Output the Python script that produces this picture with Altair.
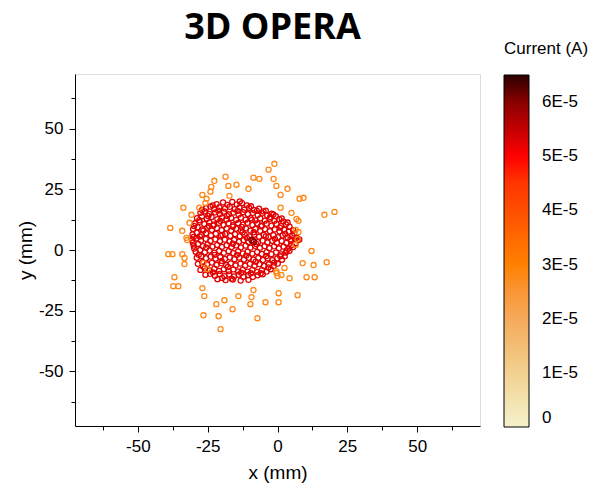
import altair as alt
import pandas as pd

# ---- data (mm) ----
red_x = [
    -21.8, -19.5, -17.9, -16.2, -14.6, -12.7, -10.9,
    -25.6, -24.0, -22.7, -20.8, -18.8, -17.1, -15.3, -13.6, -11.9, -10.2, -8.4, -6.6, -5.0,
    -27.6, -26.0, -24.4, -22.3, -20.6, -19.2, -17.4, -15.8, -13.9, -12.3, -10.6, -8.8, -7.1, -5.4, -3.7, -2.1, -0.6,
    -28.8, -27.1, -25.3, -23.6, -21.5, -19.9, -18.3, -16.6, -14.8, -13.1, -11.4, -9.6, -7.9, -6.2, -4.5, -2.8, -1.1, 0.6, 2.1,
    -29.5, -27.9, -26.2, -24.4, -22.8, -21.0, -19.3, -17.5, -15.9, -14.1, -12.4, -10.7, -9.0, -7.2, -5.6, -3.9, -2.2, -0.4, 1.3, 3.0, 4.3,
    -30.2, -28.6, -26.9, -25.1, -23.5, -21.7, -20.0, -18.2, -16.6, -14.8, -13.1, -11.3, -9.7, -7.9, -6.2, -4.5, -2.7, -1.0, 0.7, 2.4, 4.0, 5.6,
    -30.4, -28.9, -27.2, -25.6, -23.8, -22.1, -20.3, -18.7, -16.9, -15.2, -13.5, -11.8, -10.0, -8.3, -6.6, -4.9, -3.2, -1.5, 0.2, 1.9, 3.6, 5.3, 6.9,
    -30.6, -29.0, -27.4, -25.7, -24.0, -22.3, -20.6, -18.9, -17.2, -15.5, -13.8, -12.1, -10.4, -8.7, -7.0, -5.3, -3.6, -1.9, -0.2, 1.5, 3.2, 4.9, 6.5, 7.8,
    -30.0, -28.4, -26.7, -25.0, -23.3, -21.6, -19.9, -18.2, -16.5, -14.8, -13.1, -11.4, -9.7, -8.0, -6.3, -4.6, -2.9, -1.2, 0.5, 2.2, 3.9, 5.6,
    -29.3, -27.7, -26.0, -24.3, -22.6, -20.9, -19.2, -17.5, -15.8, -14.1, -12.4, -10.7, -9.0, -7.3, -5.6, -3.9, -2.2, -0.5, 1.2, 2.9, 4.3,
    -28.9, -27.3, -25.6, -23.9, -22.2, -20.5, -18.8, -17.1, -15.4, -13.7, -12.0, -10.3, -8.6, -6.9, -5.2, -3.5, -1.8, -0.1, 1.6, 2.6,
    -28.5, -26.9, -25.2, -23.5, -21.8, -20.1, -18.4, -16.7, -15.0, -13.3, -11.6, -9.9, -8.2, -6.5, -4.8, -3.1, -1.4, 0.1,
    -27.6, -26.0, -24.3, -22.6, -20.9, -19.2, -17.5, -15.8, -14.1, -12.4, -10.7, -9.0, -7.3, -5.6, -3.9, -2.4,
    -25.8, -24.1, -22.4, -20.7, -19.0, -17.3, -15.6, -13.9, -12.2, -10.5, -8.8, -7.1, -5.3,
    -21.5, -18.6, -16.0, -13.2, -10.4,
    # scattered points between the rows
    -28.0, -26.5, -24.8, -23.0, -21.2, -19.7, -18.0, -16.0, -14.3, -12.8, -11.0, -9.2, -7.6, -5.9,
    -4.2, -2.6, -0.9, 0.9, 2.8, 4.6, 6.0, 7.2, 5.0, 3.3, 1.0, -1.2, -3.3, -6.0, -9.5, -13.0,
    -16.4, -19.8, -23.1, -26.6, -28.2, -29.8, -30.3, -30.0, -29.9, -27.0, -23.2, -13.5, -9.5, -7.4,
    -4.2, -1.5, 1.5, 3.6, -20.0, -17.8, -14.5, -11.2, -7.8, -4.0, -22.5, -25.5, -27.8, -8.5, -12.5,
    -16.0, -20.5, -24.5,
]
red_y = [
    18.9, 19.6, 18.6, 19.8, 18.8, 19.3, 18.4,
    17.2, 17.9, 16.9, 17.6, 17.1, 17.8, 16.8, 17.5, 16.6, 17.4, 16.5, 17.0, 15.9,
    15.3, 15.9, 14.9, 15.5, 14.8, 15.8, 14.7, 15.4, 14.6, 15.6, 14.8, 15.3, 14.4, 15.1, 14.3, 15.0, 13.9,
    13.1, 13.8, 12.9, 13.6, 12.7, 13.4, 12.6, 13.2, 12.4, 13.3, 12.5, 13.1, 12.2, 13.0, 12.1, 12.9, 12.0, 12.7, 11.8,
    11.0, 11.6, 10.7, 11.4, 10.5, 11.2, 10.3, 11.0, 10.2, 11.1, 10.4, 11.2, 10.3, 11.0, 10.1, 10.9, 10.0, 10.8, 9.9, 10.6, 9.6,
    8.7, 9.4, 8.5, 9.2, 8.3, 9.0, 8.2, 8.9, 8.0, 8.8, 8.1, 8.9, 8.0, 8.7, 7.9, 8.6, 7.8, 8.5, 7.7, 8.4, 7.6, 8.2,
    6.4, 7.1, 6.2, 6.9, 6.0, 6.7, 5.9, 6.6, 5.8, 6.5, 5.7, 6.4, 5.6, 6.3, 5.5, 6.2, 5.4, 6.1, 5.3, 6.0, 5.2, 5.9, 5.1,
    4.1, 4.8, 3.9, 4.6, 3.7, 4.4, 3.6, 4.3, 3.5, 4.2, 3.4, 4.1, 3.3, 4.0, 3.2, 3.9, 3.1, 3.8, 3.0, 3.7, 2.9, 3.6, 2.8, 4.3,
    1.8, 2.5, 1.6, 2.3, 1.4, 2.1, 1.3, 2.0, 1.2, 1.9, 1.1, 1.8, 1.0, 1.7, 0.9, 1.6, 0.8, 1.5, 0.7, 1.4, 0.6, 1.2,
    -0.7, 0.0, -0.9, -0.2, -1.1, -0.4, -1.2, -0.5, -1.3, -0.6, -1.4, -0.7, -1.5, -0.8, -1.6, -0.9, -1.7, -1.0, -1.8, -1.1, -0.3,
    -3.2, -2.5, -3.4, -2.7, -3.6, -2.9, -3.7, -3.0, -3.8, -3.1, -3.9, -3.2, -4.0, -3.3, -4.1, -3.4, -4.2, -3.5, -4.0, -2.6,
    -5.7, -5.0, -5.9, -5.2, -6.1, -5.4, -6.2, -5.5, -6.3, -5.6, -6.4, -5.7, -6.5, -5.8, -6.6, -5.9, -6.7, -5.6,
    -8.2, -7.5, -8.4, -7.7, -8.6, -7.9, -8.7, -8.0, -8.8, -8.1, -8.9, -8.2, -9.0, -8.3, -8.9, -7.9,
    -10.2, -9.8, -10.6, -9.9, -10.8, -10.1, -10.9, -10.2, -11.0, -10.3, -11.1, -10.4, -10.0,
    -12.0, -12.4, -12.2, -12.6, -12.3,
    # scattered points between the rows
    12.3, 8.0, 14.0, 10.0, 16.2, 6.2, 14.0, 2.6, 16.1, 9.5, 5.0, 12.4, 2.5, 9.8,
    5.6, 13.6, 4.6, 9.2, 6.6, 4.4, 6.8, 4.0, 2.0, -0.2, -2.6, -5.2, -7.2, -9.6, -9.6, -9.4,
    -11.8, -11.5, -9.2, -6.8, -2.0, 0.6, 3.0, 5.4, 9.9, 16.5, 18.4, 20.0, 18.0, 16.1,
    16.2, 14.6, 13.0, 11.3, -4.5, -7.0, -2.0, -2.3, -4.8, -2.5, -2.0, 1.0, 5.6, 7.3, 7.3,
    9.6, 12.0, 9.9,
]
orange_x = [
    -1.1, -3.2, -8.6, -6.5, -1.4, -18.6, -22.6, -23.7, -24.0, -26.9, -25.4, -25.8, -17.6, -14.7, -10.4,
    -17.2, -0.4, 3.6, 1.1, 7.9, 9.3, 1.1, 5.0, 6.8, 7.5, 16.8, 20.4, -33.7, -28.0, -30.8, -31.5,
    -38.4, -34.1, -32.6, -32.3, -39.1, -37.6, -34.1, -33.3, -33.3, -26.5, -25.1, -36.9, -37.3, -35.5,
    -26.9, -26.2, -21.9, -19.0, -14.0, -9.3, -8.6, -9.7, -4.3, 0.4, 0.4, 7.2, -26.5, -21.1, -16.1,
    -7.2, -20.4, -0.4, -0.4, 0.0, 1.4, 2.5, 4.3, 10.4, 13.3, 9.0, 12.9, 17.6, 12.2, 6.5, 7.2, 7.5, 6.5,
]
orange_y = [
    35.5, 33.1, 29.8, 29.3, 29.3, 30.2, 28.5, 26.0, 24.0, 22.7, 21.1, 19.4, 26.4, 26.9, 25.2,
    22.3, 26.4, 25.2, 22.7, 21.1, 21.5, 17.4, 15.3, 12.8, 12.0, 14.5, 15.7, 17.4, 17.4, 14.5, 11.2,
    9.1, 7.9, 5.0, 4.1, -1.7, -1.7, -1.7, -3.3, -5.8, -5.4, -7.9, -11.2, -14.9, -14.9,
    -15.7, -19.0, -22.3, -20.7, -19.0, -19.4, -16.5, -22.3, -21.5, -21.5, -17.8, -18.6, -26.9, -27.3, -24.4,
    -28.1, -32.6, -8.7, -9.5, -10.7, -10.3, -7.4, -11.6, -11.2, -11.2, -5.4, -6.2, -5.0, -0.4, 2.1, 4.5, 7.4, 8.3,
]
dark_x = [-9.3, -8.5]
dark_y = [4.1, 3.3]

red_level = 5.25e-5
orange_level = 2.85e-5
dark_level = 6.0e-5

x_ticks = [-62.5, -50, -37.5, -25, -12.5, 0, 12.5, 25, 37.5, 50, 62.5]
y_ticks = [-62.5, -50, -37.5, -25, -12.5, 0, 12.5, 25, 37.5, 50, 62.5]
legend_ticks = [0, 1e-5, 2e-5, 3e-5, 4e-5, 5e-5, 6e-5]
color_stops = [0, 1e-5, 2e-5, 3e-5, 4e-5, 5e-5, 6e-5, 6.5e-5]
color_range = ["#f5f1cc", "#f2d191", "#f6aa5a", "#ff8000", "#ff4e00", "#ff0000", "#8a0000", "#2b0000"]

rows = []
for xv, yv in zip(red_x, red_y):
    rows.append({"x": xv, "y": yv, "current": red_level})
for xv, yv in zip(dark_x, dark_y):
    rows.append({"x": xv, "y": yv, "current": dark_level})
for xv, yv in zip(orange_x, orange_y):
    rows.append({"x": xv, "y": yv, "current": orange_level})
df = pd.DataFrame(rows)

font = "Liberation Sans"
major = "datum.value % 25 == 0"
tick_size = {"condition": {"test": major, "value": 6}, "value": 4}

x_axis = alt.Axis(
    title="x (mm)", values=x_ticks,
    labelExpr=f"{major} ? '' + datum.value : ''",
    tickSize=tick_size, labelPadding=6, titlePadding=9,
    grid=False, domainColor="black", tickColor="black",
    labelFont=font, labelFontSize=17, labelColor="black",
    titleFont=font, titleFontSize=19, titleFontWeight="normal", titleColor="black",
    labelOverlap=False,
)
y_axis = alt.Axis(
    title="y (mm)", values=y_ticks,
    labelExpr=f"{major} ? '' + datum.value : ''",
    tickSize=tick_size, labelPadding=6, titlePadding=3,
    grid=False, domainColor="black", tickColor="black",
    labelFont=font, labelFontSize=17, labelColor="black",
    titleFont=font, titleFontSize=19, titleFontWeight="normal", titleColor="black",
    labelOverlap=False,
)

legend = alt.Legend(
    title="Current (A)", orient="none", legendX=429, legendY=-33, direction="vertical",
    values=legend_ticks,
    labelExpr="datum.value == 0 ? '0' : round(datum.value * 1e5) + 'E-5'",
    gradientLength=352, gradientThickness=25,
    gradientStrokeColor="black", gradientStrokeWidth=1,
    labelFont=font, labelFontSize=17, labelColor="black", labelOffset=13,
    labelOverlap=False, labelBaseline="middle",
    titleFont=font, titleFontSize=17, titleFontWeight="normal", titleColor="black",
    titlePadding=17, padding=0,
)

chart = alt.Chart(df).mark_point(filled=False, size=26, strokeWidth=1.3, opacity=1).encode(
    x=alt.X("x:Q", scale=alt.Scale(domain=[-72.5, 72.5], nice=False, zero=False), axis=x_axis),
    y=alt.Y("y:Q", scale=alt.Scale(domain=[-72.5, 72.5], nice=False, zero=False), axis=y_axis),
    color=alt.Color("current:Q",
                    scale=alt.Scale(type="linear", domain=color_stops, range=color_range, clamp=True),
                    legend=legend),
).properties(
    width=405, height=352,
    title=alt.TitleParams("3D OPERA", font="Open Sans", fontSize=36, fontWeight="bold",
                          color="black", anchor="middle", frame="group",
                          offset=30, dx=-5, dy=36),
    autosize=alt.AutoSizeParams(type="none"),
    padding={"left": 75, "top": 74, "right": 109, "bottom": 67},
).configure_view(stroke="#b0b0b0", strokeWidth=1).configure(background="white")

chart.save("out.html", embed_options={"renderer": "svg", "actions": False})
